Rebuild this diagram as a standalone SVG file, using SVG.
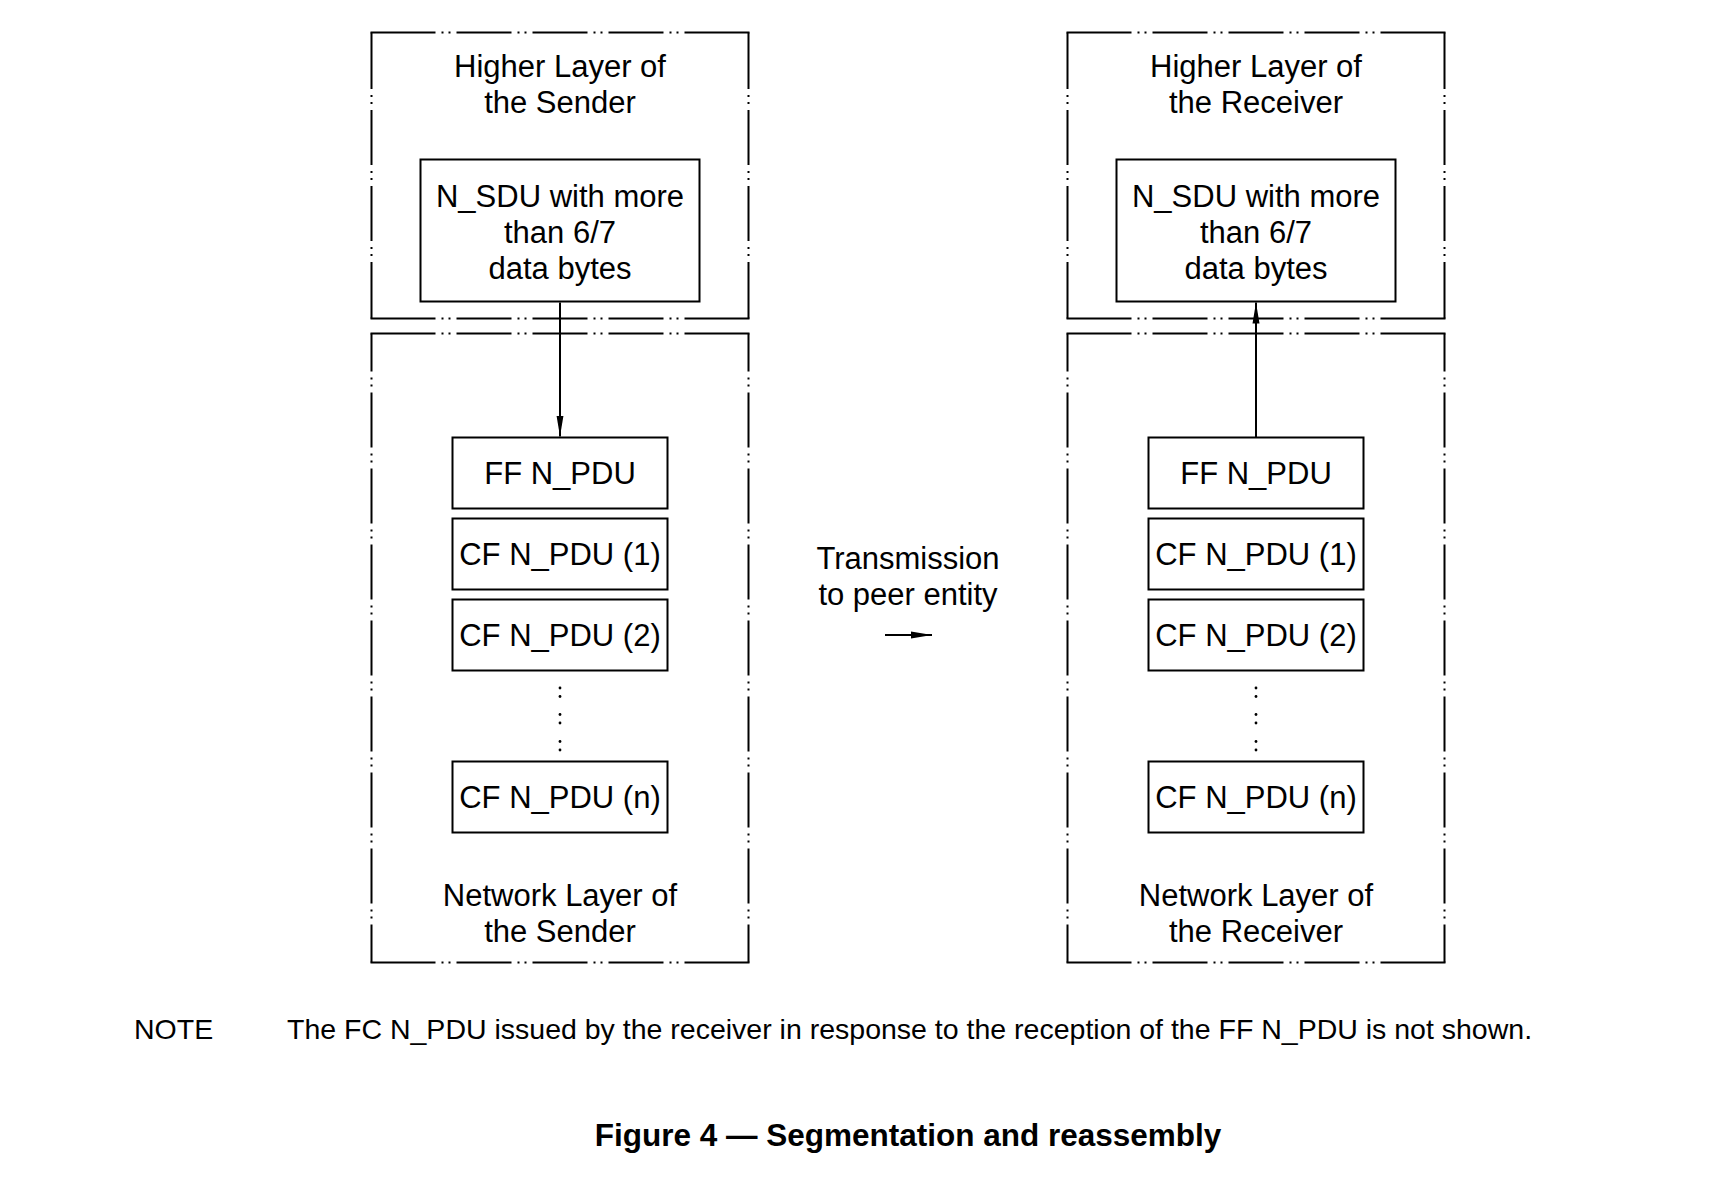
<svg xmlns="http://www.w3.org/2000/svg" width="1712" height="1197" viewBox="0 0 1712 1197">
<defs>
<style>
.t{font-family:"Liberation Sans",Arial,sans-serif;font-size:31px;fill:#000;text-anchor:middle}
.box{fill:#fff;stroke:#000;stroke-width:2}
.dd{fill:none;stroke:#000;stroke-width:2;stroke-linecap:butt}
.h{stroke-dasharray:65 6 2 5 2 6 55 6 2 5 2 6 55 6 2 5 2 6 55 6 2 5 2 6 65 20}
.vh{stroke-dasharray:56.5 6 2 5 2 6 55 6 2 5 2 6 55 6 2 5 2 6 56.5 20}
.vn{stroke-dasharray:38 6 2 5 2 6 55 6 2 5 2 6 55 6 2 5 2 6 55 6 2 5 2 6 55 6 2 5 2 6 55 6 2 5 2 6 55 6 2 5 2 6 55 6 2 5 2 6 38 20}
.conn{stroke:#000;stroke-width:2;fill:none}
.dot{fill:#000}
.note{font-family:"Liberation Sans",Arial,sans-serif;font-size:28.5px;fill:#000}
.cap{font-family:"Liberation Sans",Arial,sans-serif;font-size:31.5px;font-weight:bold;fill:#000;text-anchor:middle}
</style>
<marker id="arr" markerUnits="userSpaceOnUse" markerWidth="22" markerHeight="8" refX="21" refY="4" orient="auto">
<path d="M0,0.5 L21,4 L0,7.5 z" fill="#000"/>
</marker>
</defs>
<rect width="1712" height="1197" fill="#fff"/>

<!-- Sender side -->
<g id="higher-sender">
<path class="dd h" d="M370.5,32.5 H749.5 M370.5,318.5 H749.5"/>
<path class="dd vh" d="M371.5,32.5 V318.5 M748.5,32.5 V318.5"/>
<text class="t" x="560" y="77">Higher Layer of</text>
<text class="t" x="560" y="113">the Sender</text>
</g>
<g id="network-sender">
<path class="dd h" d="M370.5,333.5 H749.5 M370.5,962.5 H749.5"/>
<path class="dd vn" d="M371.5,333.5 V962.5 M748.5,333.5 V962.5"/>
<text class="t" x="560" y="906">Network Layer of</text>
<text class="t" x="560" y="942">the Sender</text>
</g>
<g id="nsdu-sender">
<rect class="box" x="420.5" y="159.5" width="279" height="142"/>
<text class="t" x="560" y="206.5">N_SDU with more</text>
<text class="t" x="560" y="242.5">than 6/7</text>
<text class="t" x="560" y="278.5">data bytes</text>
</g>
<g id="ff-sender">
<rect class="box" x="452.5" y="437.5" width="215" height="71"/>
<text class="t" x="560" y="484">FF N_PDU</text>
</g>
<g id="cf1-sender">
<rect class="box" x="452.5" y="518.5" width="215" height="71"/>
<text class="t" x="560" y="565">CF N_PDU (1)</text>
</g>
<g id="cf2-sender">
<rect class="box" x="452.5" y="599.5" width="215" height="71"/>
<text class="t" x="560" y="646">CF N_PDU (2)</text>
</g>
<g id="cfn-sender">
<rect class="box" x="452.5" y="761.5" width="215" height="71"/>
<text class="t" x="560" y="808">CF N_PDU (n)</text>
</g>
<g id="ellipsis-sender">
<circle class="dot" cx="560" cy="688" r="1.4"/>
<circle class="dot" cx="560" cy="696.5" r="1.4"/>
<circle class="dot" cx="560" cy="714.5" r="1.4"/>
<circle class="dot" cx="560" cy="723" r="1.4"/>
<circle class="dot" cx="560" cy="741.5" r="1.4"/>
<circle class="dot" cx="560" cy="750" r="1.4"/>
</g>

<!-- Receiver side -->
<g id="higher-receiver">
<path class="dd h" d="M1066.5,32.5 H1445.5 M1066.5,318.5 H1445.5"/>
<path class="dd vh" d="M1067.5,32.5 V318.5 M1444.5,32.5 V318.5"/>
<text class="t" x="1256" y="77">Higher Layer of</text>
<text class="t" x="1256" y="113">the Receiver</text>
</g>
<g id="network-receiver">
<path class="dd h" d="M1066.5,333.5 H1445.5 M1066.5,962.5 H1445.5"/>
<path class="dd vn" d="M1067.5,333.5 V962.5 M1444.5,333.5 V962.5"/>
<text class="t" x="1256" y="906">Network Layer of</text>
<text class="t" x="1256" y="942">the Receiver</text>
</g>
<g id="nsdu-receiver">
<rect class="box" x="1116.5" y="159.5" width="279" height="142"/>
<text class="t" x="1256" y="206.5">N_SDU with more</text>
<text class="t" x="1256" y="242.5">than 6/7</text>
<text class="t" x="1256" y="278.5">data bytes</text>
</g>
<g id="ff-receiver">
<rect class="box" x="1148.5" y="437.5" width="215" height="71"/>
<text class="t" x="1256" y="484">FF N_PDU</text>
</g>
<g id="cf1-receiver">
<rect class="box" x="1148.5" y="518.5" width="215" height="71"/>
<text class="t" x="1256" y="565">CF N_PDU (1)</text>
</g>
<g id="cf2-receiver">
<rect class="box" x="1148.5" y="599.5" width="215" height="71"/>
<text class="t" x="1256" y="646">CF N_PDU (2)</text>
</g>
<g id="cfn-receiver">
<rect class="box" x="1148.5" y="761.5" width="215" height="71"/>
<text class="t" x="1256" y="808">CF N_PDU (n)</text>
</g>
<g id="ellipsis-receiver">
<circle class="dot" cx="1256" cy="688" r="1.4"/>
<circle class="dot" cx="1256" cy="696.5" r="1.4"/>
<circle class="dot" cx="1256" cy="714.5" r="1.4"/>
<circle class="dot" cx="1256" cy="723" r="1.4"/>
<circle class="dot" cx="1256" cy="741.5" r="1.4"/>
<circle class="dot" cx="1256" cy="750" r="1.4"/>
</g>

<g id="transmission">
<text class="t" x="908" y="569">Transmission</text>
<text class="t" x="908" y="605">to peer entity</text>
</g>

<g id="connectors">
<line class="conn" x1="560" y1="302.5" x2="560" y2="436.5" marker-end="url(#arr)"/>
<line class="conn" x1="1256" y1="437.5" x2="1256" y2="302.5" marker-end="url(#arr)"/>
<line class="conn" x1="885" y1="635" x2="932" y2="635" marker-end="url(#arr)"/>
</g>

<g id="note">
<text class="note" x="134" y="1039">NOTE</text>
<text class="note" x="287" y="1039">The FC N_PDU issued by the receiver in response to the reception of the FF N_PDU is not shown.</text>
</g>
<g id="caption">
<text class="cap" x="908" y="1146">Figure 4 — Segmentation and reassembly</text>
</g>
</svg>
